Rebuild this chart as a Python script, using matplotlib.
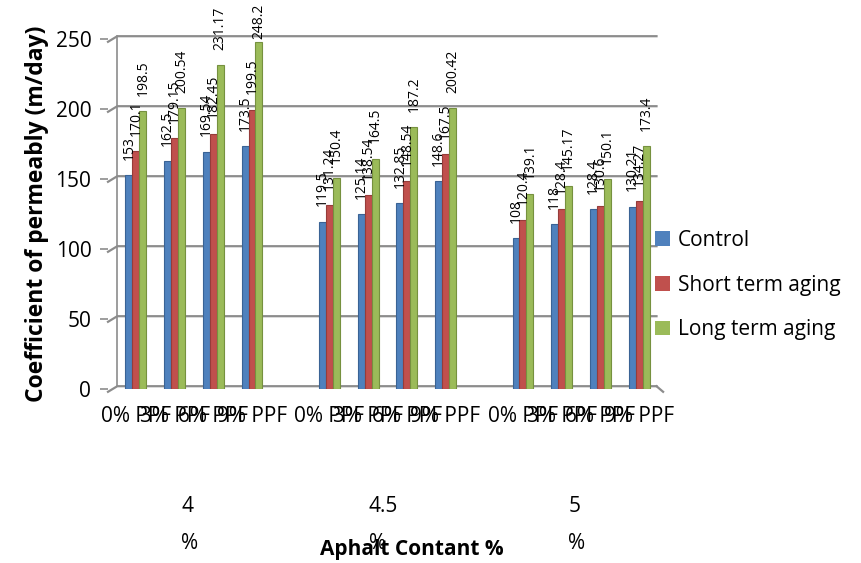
import numpy as np
import matplotlib
matplotlib.use("Agg")
import matplotlib.pyplot as plt
from matplotlib.patches import Patch

plt.rcParams['font.family'] = ['Open Sans', 'DejaVu Sans']

# Data
ASPHALT = ["4\n%", "4.5\n%", "5\n%"]
FIBRE = ["0% PPF", "3% PPF", "6% PPF", "9% PPF"]
SERIES = ["Control", "Short term aging", "Long term aging"]
COLORS = ["#4F81BD", "#C0504D", "#9BBB59"]
EDGES = ["#3A6395", "#963C3A", "#76913F"]

control = [153, 162.5, 169.54, 173.5,
           119.5, 125.14, 132.85, 148.6,
           108, 118, 128.4, 130.21]
short_term = [170.1, 179.15, 182.45, 199.5,
              131.24, 138.54, 148.54, 167.5,
              120.4, 128.4, 130.6, 134.27]
long_term = [198.5, 200.54, 231.17, 248.2,
             150.4, 164.5, 187.2, 200.42,
             139.1, 145.17, 150.1, 173.4]

W, H = 861, 563
fig = plt.figure(figsize=(W / 100, H / 100), dpi=100)
ax_l, ax_r, ax_b, ax_t = 108, 660, 389, 39
ax = fig.add_axes([ax_l / W, (H - ax_b) / H, (ax_r - ax_l) / W, (ax_b - ax_t) / H])

# slots: 4 clusters per group with one empty slot between groups
pos = []
for g in range(len(ASPHALT)):
    for f in range(len(FIBRE)):
        pos.append(g * (len(FIBRE) + 1) + f)
pos = np.array(pos, dtype=float)

ax.set_xlim(-0.72, 13.54)
ax.set_ylim(0, 250)

# gridlines with a small 3D-wall stub on the left
yt = np.arange(0, 251, 50)
for v in yt:
    ax.plot([-0.72, -0.48, 13.45], [v - 2.0, v + 2.0, v + 2.0],
            color="#8C8C8C", lw=1.6, zorder=1, clip_on=False)
ax.plot([-0.48, -0.48], [2, 252], color="#8C8C8C", lw=1.2, zorder=1, clip_on=False)
ax.plot([13.45, 13.62], [2, -2], color="#8C8C8C", lw=1.6, zorder=1, clip_on=False)

bw = 0.18
all_vals = [control, short_term, long_term]
for i, (vals, c, e) in enumerate(zip(all_vals, COLORS, EDGES)):
    x = pos + (i - 1) * bw
    ax.bar(x, vals, width=bw, color=c, edgecolor=e, linewidth=0.8, zorder=3,
           label=SERIES[i])
    for xi, v in zip(x, vals):
        txt = f"{v:g}"
        # keep labels inside the figure like Excel does
        top_px = ax_b - v * (ax_b - ax_t) / 250
        if top_px - 15 - 7.4 * len(txt) < 4:
            ax.annotate(txt, (xi, 1), xycoords=("data", "figure fraction"),
                        xytext=(0, -3), textcoords="offset points",
                        rotation=90, ha="center", va="top", fontsize=10, zorder=5)
        else:
            ax.annotate(txt, (xi, v), xytext=(0, 11), textcoords="offset points",
                        rotation=90, ha="center", va="bottom", fontsize=10, zorder=5)

for s in ax.spines.values():
    s.set_visible(False)

ax.set_yticks(yt)
ax.set_yticklabels([str(v) for v in yt], fontsize=15)
ax.tick_params(axis="y", length=6, color="#8C8C8C", width=1.2, pad=6)
ax.set_xticks(pos)
ax.set_xticklabels(FIBRE * len(ASPHALT), fontsize=15)
ax.tick_params(axis="x", length=0, pad=12)

ax.set_ylabel("Coefficient of permeably (m/day)", fontsize=16.5, fontweight="bold", labelpad=5)

# group labels under each set of clusters
for g, lab in enumerate(ASPHALT):
    gc = g * (len(FIBRE) + 1) + 1.5
    ax.annotate(lab, (gc, 1 - 496 / H), xycoords=("data", "figure fraction"),
                xytext=(-3, 0), textcoords="offset points",
                ha="center", va="top", multialignment="left", fontsize=15,
                linespacing=2.0)

fig.text(412 / W, 1 - 549 / H, "Aphalt Contant %", ha="center", va="center",
         fontsize=15, fontweight="bold")

handles = [Patch(facecolor=c, edgecolor="none") for c in COLORS]
fig.legend(handles, SERIES, loc="center left", bbox_to_anchor=(655 / W, 1 - 285 / H),
           frameon=False, fontsize=15, handlelength=0.7, handleheight=0.7,
           handletextpad=0.4, labelspacing=1.15, borderaxespad=0, borderpad=0)

fig.savefig("out.png", dpi=100)
